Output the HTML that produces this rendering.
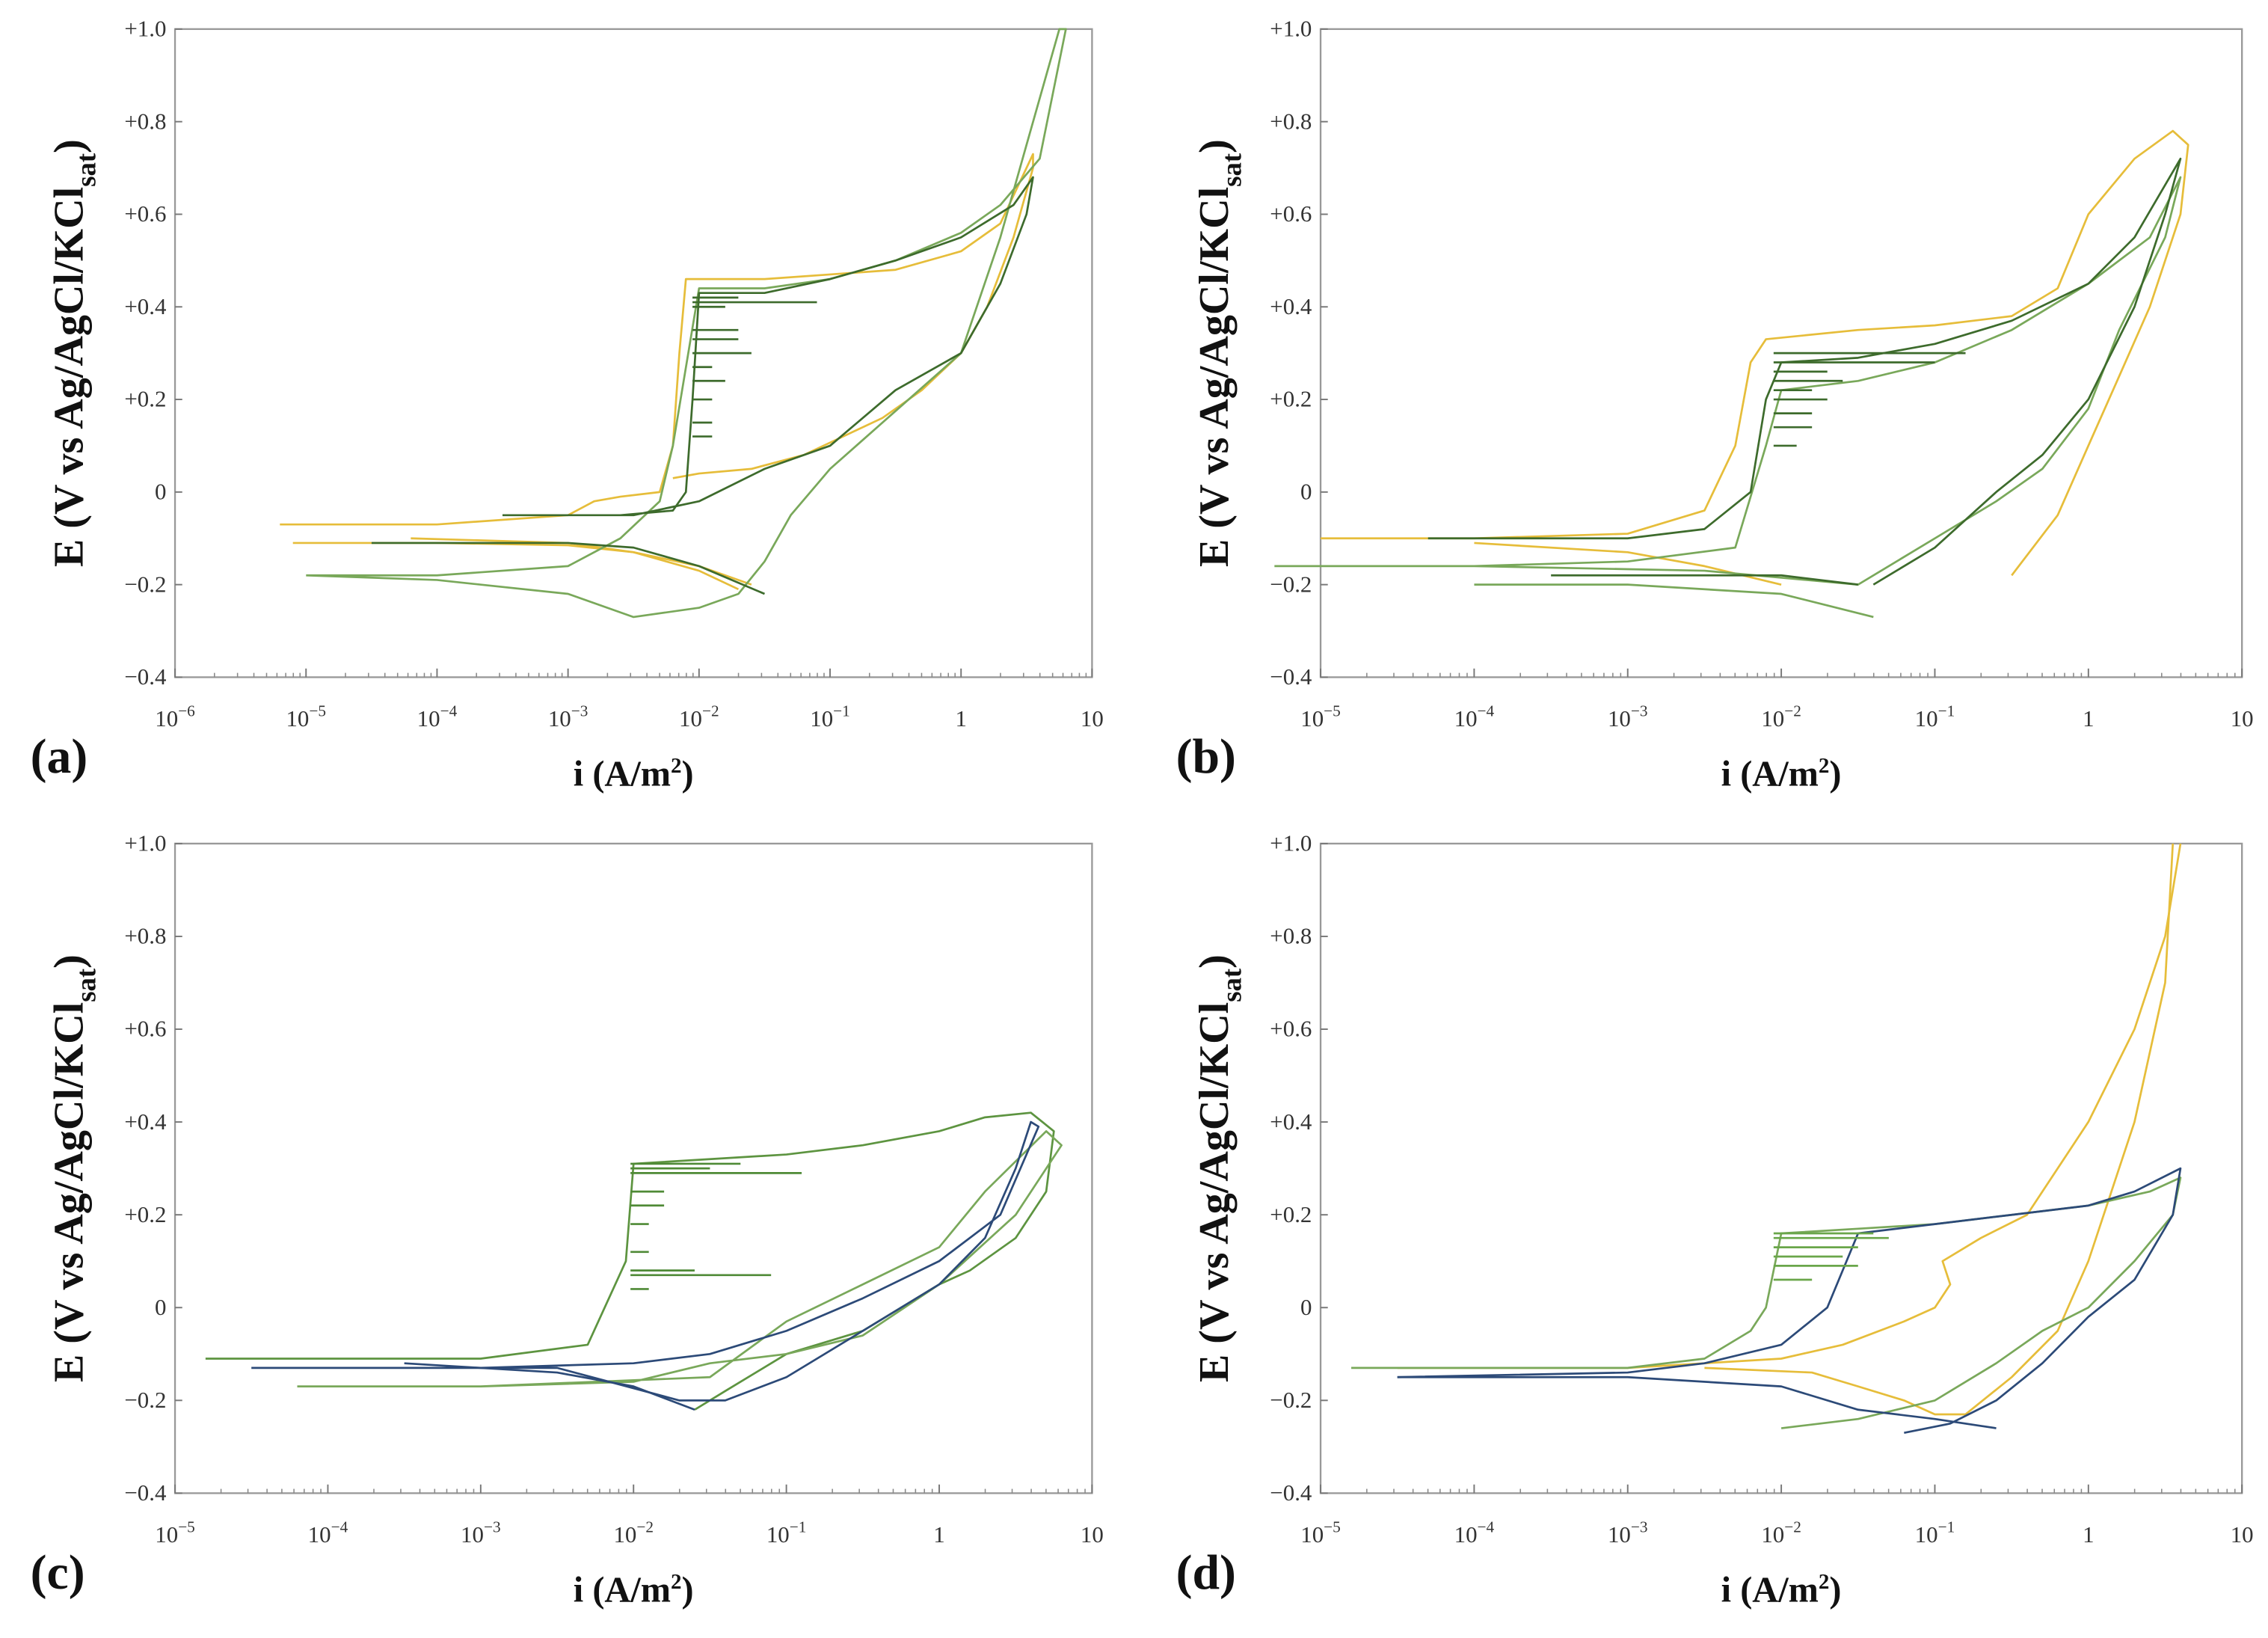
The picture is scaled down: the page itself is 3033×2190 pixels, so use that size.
<!DOCTYPE html>
<html><head><meta charset="utf-8">
<style>html,body{margin:0;padding:0;background:#fff}svg{display:block}</style>
</head><body>
<svg id="fig" xmlns="http://www.w3.org/2000/svg" width="3033" height="2190" viewBox="0 0 1568 1132" font-family="'Liberation Serif', serif">
<rect width="1568" height="1132" fill="#fff"/>
</svg>
<script>
// ---- data (x = log10 i [A/m2], y = E [V]) ----
const yTicks = [-0.4,-0.2,0,0.2,0.4,0.6,0.8,1.0];
const yTickLabels = ["\u22120.4","\u22120.2","0","+0.2","+0.4","+0.6","+0.8","+1.0"];

const aYel1X=[-5.2,-4,-3,-2.8,-2.6,-2.3,-2.2,-2.15,-2.1,-1.5,-1,-0.5,0,0.3,0.55,0.55,0.4,0.2,0,-0.3,-0.6,-0.9,-1.2,-1.6,-2.0,-2.2];
const aYel1Y=[-0.07,-0.07,-0.05,-0.02,-0.01,0,0.1,0.3,0.46,0.46,0.47,0.48,0.52,0.58,0.73,0.7,0.55,0.4,0.3,0.22,0.16,0.12,0.08,0.05,0.04,0.03];
const aYel2X=[-5.1,-4,-3,-2.5,-2,-1.7];
const aYel2Y=[-0.11,-0.11,-0.115,-0.13,-0.17,-0.21];
const aYel3X=[-4.2,-3,-2.5,-2,-1.6];
const aYel3Y=[-0.1,-0.11,-0.13,-0.16,-0.2];
const aDk1X=[-3.5,-3,-2.6,-2.2,-2.1,-2.05,-2.0,-1.5,-1,-0.5,0,0.4,0.55,0.5,0.3,0,-0.5,-1,-1.5,-2,-2.5,-3.5];
const aDk1Y=[-0.05,-0.05,-0.05,-0.04,0,0.2,0.43,0.43,0.46,0.5,0.55,0.62,0.68,0.6,0.45,0.3,0.22,0.1,0.05,-0.02,-0.05,-0.05];
const aDk2X=[-4.5,-3,-2.5,-2,-1.5];
const aDk2Y=[-0.11,-0.11,-0.12,-0.16,-0.22];
const aLt1X=[-5,-4,-3,-2.6,-2.3,-2.2,-2,-1.5,-1,-0.5,0,0.3,0.6,0.8,0.75,0.5,0.3,0,-0.4,-0.6,-0.8,-1,-1.3,-1.5,-1.7,-2,-2.5,-3,-4,-5];
const aLt1Y=[-0.18,-0.18,-0.16,-0.1,-0.02,0.1,0.44,0.44,0.46,0.5,0.56,0.62,0.72,1.0,1.0,0.75,0.55,0.3,0.2,0.15,0.1,0.05,-0.05,-0.15,-0.22,-0.25,-0.27,-0.22,-0.19,-0.18];
const aSpikeE=[0.42,0.41,0.4,0.35,0.33,0.3,0.27,0.24,0.2,0.15,0.12];
const aSpikeEnd=[-1.7,-1.1,-1.8,-1.7,-1.7,-1.6,-1.9,-1.8,-1.9,-1.9,-1.9];

const bYel1X=[-5,-4,-3,-2.5,-2.3,-2.2,-2.1,-1.5,-1,-0.5,-0.2,0,0.3,0.55,0.65,0.6,0.4,0.2,0,-0.2,-0.5];
const bYel1Y=[-0.1,-0.1,-0.09,-0.04,0.1,0.28,0.33,0.35,0.36,0.38,0.44,0.6,0.72,0.78,0.75,0.6,0.4,0.25,0.1,-0.05,-0.18];
const bYel2X=[-4,-3,-2.5,-2];
const bYel2Y=[-0.11,-0.13,-0.16,-0.2];
const bDk1X=[-4.3,-3,-2.5,-2.2,-2.1,-2.0,-1.5,-1,-0.5,0,0.3,0.6,0.5,0.3,0,-0.3,-0.6,-1,-1.4];
const bDk1Y=[-0.1,-0.1,-0.08,0.0,0.2,0.28,0.29,0.32,0.37,0.45,0.55,0.72,0.6,0.4,0.2,0.08,0,-0.12,-0.2];
const bDk2X=[-3.5,-2.5,-2,-1.5];
const bDk2Y=[-0.18,-0.18,-0.18,-0.2];
const bLt1X=[-5.3,-4,-3,-2.3,-2.1,-2.0,-1.5,-1,-0.5,0,0.4,0.6,0.5,0.2,0,-0.3,-0.6,-1,-1.5,-2.5,-4,-5.3];
const bLt1Y=[-0.16,-0.16,-0.15,-0.12,0.1,0.22,0.24,0.28,0.35,0.45,0.55,0.68,0.55,0.35,0.18,0.05,-0.02,-0.1,-0.2,-0.17,-0.16,-0.16];
const bLt2X=[-4,-3,-2,-1.4];
const bLt2Y=[-0.2,-0.2,-0.22,-0.27];
const bSpikeE=[0.26,0.24,0.22,0.2,0.17,0.14,0.1,0.3,0.28];
const bSpikeEnd=[-1.7,-1.6,-1.8,-1.7,-1.8,-1.8,-1.9,-0.8,-1.0];

const cLt1X=[-4.8,-3,-2.3,-2.05,-2.0,-1.5,-1,-0.5,0,0.3,0.6,0.75,0.7,0.5,0.2,0,-0.5,-1,-1.4,-1.6];
const cLt1Y=[-0.11,-0.11,-0.08,0.1,0.31,0.32,0.33,0.35,0.38,0.41,0.42,0.38,0.25,0.15,0.08,0.05,-0.05,-0.1,-0.18,-0.22];
const cLt2X=[-4.2,-3,-2,-1.5,-1,-0.5,0,0.5,0.8,0.7,0.3,0,-0.5,-1,-1.5,-3,-4.2];
const cLt2Y=[-0.17,-0.17,-0.16,-0.12,-0.1,-0.06,0.05,0.2,0.35,0.38,0.25,0.13,0.05,-0.03,-0.15,-0.17,-0.17];
const cNv1X=[-4.5,-3,-2,-1.5,-1,-0.5,0,0.4,0.65,0.6,0.5,0.3,0,-0.5,-1,-1.4,-1.7,-2.5,-4.5];
const cNv1Y=[-0.13,-0.13,-0.12,-0.1,-0.05,0.02,0.1,0.2,0.39,0.4,0.3,0.15,0.05,-0.05,-0.15,-0.2,-0.2,-0.13,-0.13];
const cNv2X=[-3.5,-2.5,-2,-1.6];
const cNv2Y=[-0.12,-0.14,-0.17,-0.22];
const cSpikeE=[0.31,0.3,0.29,0.25,0.22,0.18,0.12,0.08,0.07,0.04];
const cSpikeEnd=[-1.3,-1.5,-0.9,-1.8,-1.8,-1.9,-1.9,-1.6,-1.1,-1.9];

const dLt1X=[-4.8,-3,-2.5,-2.2,-2.1,-2.0,-1.5,-1,-0.5,0,0.4,0.6,0.55,0.3,0,-0.3,-0.6,-1,-1.5,-2];
const dLt1Y=[-0.13,-0.13,-0.11,-0.05,0.0,0.16,0.17,0.18,0.2,0.22,0.25,0.28,0.2,0.1,0,-0.05,-0.12,-0.2,-0.24,-0.26];
const dNv1X=[-4.5,-3,-2.5,-2,-1.7,-1.5,-1,-0.5,0,0.3,0.6,0.55,0.3,0,-0.3,-0.6,-0.9,-1.2];
const dNv1Y=[-0.15,-0.14,-0.12,-0.08,0,0.16,0.18,0.2,0.22,0.25,0.3,0.2,0.06,-0.02,-0.12,-0.2,-0.25,-0.27];
const dNv2X=[-4.5,-3,-2,-1.5,-1,-0.6];
const dNv2Y=[-0.15,-0.15,-0.17,-0.22,-0.24,-0.26];
const dYel1X=[-4.5,-3,-2,-1.6,-1.2,-1,-0.9,-0.95,-0.7,-0.4,0,0.3,0.5,0.6];
const dYel1Y=[-0.13,-0.13,-0.11,-0.08,-0.03,0,0.05,0.1,0.15,0.2,0.4,0.6,0.8,1.0];
const dYel2X=[-2.5,-1.8,-1.5,-1.2,-1,-0.8,-0.5,-0.2,0,0.3,0.5,0.55];
const dYel2Y=[-0.13,-0.14,-0.17,-0.2,-0.23,-0.23,-0.15,-0.05,0.1,0.4,0.7,1.0];
const dSpikeE=[0.16,0.15,0.13,0.11,0.09,0.06];
const dSpikeEnd=[-1.4,-1.3,-1.5,-1.6,-1.5,-1.8];

const YEL="#e6bd3a", DK="#3d6b2c", LT="#79a85a", NV="#2c4a78";
const NS="http://www.w3.org/2000/svg";
const svgRoot=document.getElementById('fig');
function mk(tag,attrs,parent){const e=document.createElementNS(NS,tag);for(const k in attrs)e.setAttribute(k,attrs[k]);(parent||svgRoot).appendChild(e);return e;}

function panel(p){
  const g=mk('g',{});
  
  
  const xs=v=>p.L+(v-p.xmin)/(p.xmax-p.xmin)*(p.R-p.L);
  const ys=v=>p.B-(v+0.4)/1.4*(p.B-p.T);
  const box=mk('rect',{x:p.L,y:p.T,width:p.R-p.L,height:p.B-p.T,fill:'none',stroke:'#999','stroke-width':1.2},g);
  
  
  yTicks.forEach((t,i)=>{
    const y=ys(t);
    mk('line',{x1:p.L,x2:p.L+5,y1:y,y2:y,stroke:'#777','stroke-width':1},g);
    const tx=mk('text',{x:p.L-6,y:y+5,'text-anchor':'end','font-size':16,fill:'#333'},g);
    tx.textContent=yTickLabels[i];
    
    
  });
  for(let d=p.xmin; d<=p.xmax; d++){
    const x=xs(d);
    mk('line',{x1:x,x2:x,y1:p.B,y2:p.B-6,stroke:'#777','stroke-width':1},g);
    if(d<p.xmax){for(let m=2;m<10;m++){const xm=xs(d+Math.log10(m));mk('line',{x1:xm,x2:xm,y1:p.B,y2:p.B-3,stroke:'#888','stroke-width':0.8},g);}}
    const tx=mk('text',{x:x,y:p.B+34,'text-anchor':'middle','font-size':16,fill:'#333'},g);
    
    
    if(d===0) tx.textContent='1';
    else if(d===1) tx.textContent='10';
    else { tx.textContent='10'; const s=mk('tspan',{dy:-7,'font-size':11},tx); s.textContent='\u2212'+(-d); }
  }
  p.series.forEach(s=>{
    let dstr='';
    s.x.forEach((v,i)=>{dstr+=(i?'L':'M')+xs(v).toFixed(1)+','+ys(s.y[i]).toFixed(1);});
    const path=mk('path',{d:dstr,fill:'none',stroke:s.c,'stroke-width':1.4,'stroke-linejoin':'round'},g);
    
    
  });
  p.spikeE.forEach((e,i)=>{
    const ln=mk('line',{x1:xs(p.spikeBase),x2:xs(p.spikeEnd[i]),y1:ys(e),y2:ys(e),stroke:p.spikeC,'stroke-width':1.4},g);
    
    
  });
  const xt=mk('text',{x:(p.L+p.R)/2,y:p.B+75,'text-anchor':'middle','font-size':25,'font-weight':'bold',fill:'#111'},g);
  
  
  xt.textContent='i (A/m';
  const x2=mk('tspan',{dy:-9,'font-size':15},xt); x2.textContent='2';
  const x3=mk('tspan',{dy:9},xt); x3.textContent=')';
  const yt=mk('text',{transform:'translate('+(p.L-64)+','+((p.T+p.B)/2)+') rotate(-90)','text-anchor':'middle','font-size':29,'font-weight':'bold',fill:'#111'},g);
  
  
  yt.textContent='E (V vs Ag/AgCl/KCl';
  const y2=mk('tspan',{dy:9,'font-size':19},yt); y2.textContent='sat';
  const y3=mk('tspan',{dy:-9},yt); y3.textContent=')';
  const pl=mk('text',{x:p.L-100,y:p.B+66,'font-size':34,'font-weight':'bold',fill:'#111'},g);
  
  
  pl.textContent='('+p.id+')';
}

panel({id:'a',L:121,R:755,T:20,B:468,xmin:-6,xmax:1,spikeE:aSpikeE,spikeEnd:aSpikeEnd,spikeBase:-2.05,spikeC:DK,series:[
 {x:aYel1X,y:aYel1Y,c:YEL,n:'series-yellow-1'},{x:aYel2X,y:aYel2Y,c:YEL,n:'series-yellow-2'},{x:aYel3X,y:aYel3Y,c:YEL,n:'series-yellow-3'},
 {x:aLt1X,y:aLt1Y,c:LT,n:'series-lightgreen-1'},{x:aDk1X,y:aDk1Y,c:DK,n:'series-darkgreen-1'},{x:aDk2X,y:aDk2Y,c:DK,n:'series-darkgreen-2'}]});
panel({id:'b',L:913,R:1550,T:20,B:468,xmin:-5,xmax:1,spikeE:bSpikeE,spikeEnd:bSpikeEnd,spikeBase:-2.05,spikeC:DK,series:[
 {x:bYel1X,y:bYel1Y,c:YEL,n:'series-yellow-1'},{x:bYel2X,y:bYel2Y,c:YEL,n:'series-yellow-2'},
 {x:bLt1X,y:bLt1Y,c:LT,n:'series-lightgreen-1'},{x:bLt2X,y:bLt2Y,c:LT,n:'series-lightgreen-2'},
 {x:bDk1X,y:bDk1Y,c:DK,n:'series-darkgreen-1'},{x:bDk2X,y:bDk2Y,c:DK,n:'series-darkgreen-2'}]});
panel({id:'c',L:121,R:755,T:583,B:1032,xmin:-5,xmax:1,spikeE:cSpikeE,spikeEnd:cSpikeEnd,spikeBase:-2.02,spikeC:'#4f8a36',series:[
 {x:cLt1X,y:cLt1Y,c:'#5d9440',n:'series-green-1'},{x:cLt2X,y:cLt2Y,c:LT,n:'series-lightgreen-2'},
 {x:cNv1X,y:cNv1Y,c:NV,n:'series-navy-1'},{x:cNv2X,y:cNv2Y,c:NV,n:'series-navy-2'}]});
panel({id:'d',L:913,R:1550,T:583,B:1032,xmin:-5,xmax:1,spikeE:dSpikeE,spikeEnd:dSpikeEnd,spikeBase:-2.05,spikeC:'#6aa64a',series:[
 {x:dYel1X,y:dYel1Y,c:YEL,n:'series-yellow-1'},{x:dYel2X,y:dYel2Y,c:YEL,n:'series-yellow-2'},
 {x:dLt1X,y:dLt1Y,c:LT,n:'series-lightgreen-1'},{x:dNv1X,y:dNv1Y,c:NV,n:'series-navy-1'},{x:dNv2X,y:dNv2Y,c:NV,n:'series-navy-2'}]});
</script>
</body></html>
